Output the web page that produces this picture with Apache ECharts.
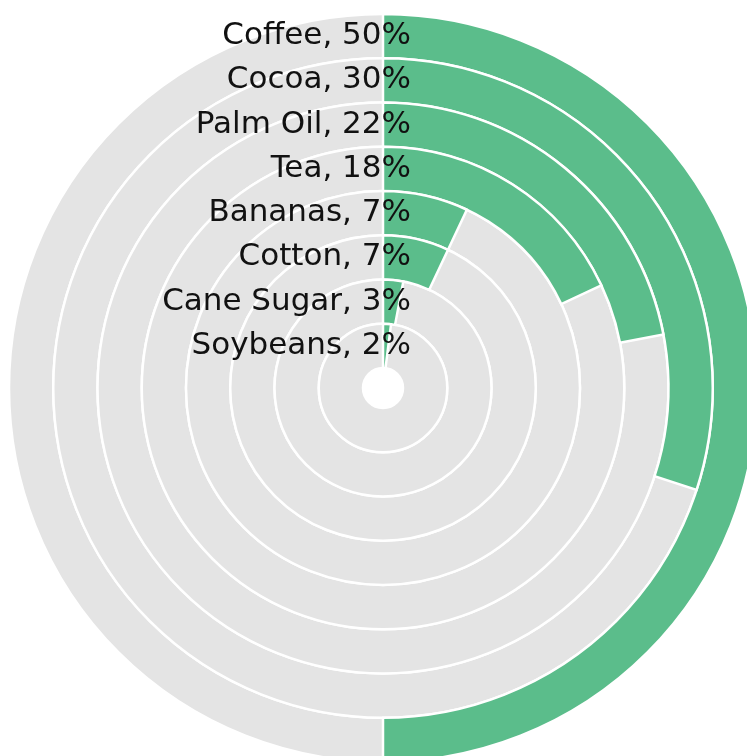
<!DOCTYPE html>
<html>
<head>
<meta charset="utf-8">
<script src="https://cdn.jsdelivr.net/npm/echarts@6/dist/echarts.min.js"></script>
<style>
  html, body { margin: 0; padding: 0; background: #fff; }
  #main { width: 747px; height: 756px; }
</style>
</head>
<body>
<div id="main"></div>
<script>
var commodities = ['Coffee', 'Cocoa', 'Palm Oil', 'Tea', 'Bananas', 'Cotton', 'Cane Sugar', 'Soybeans'];
var shares = [50, 30, 22, 18, 7, 7, 3, 2];

var myChart = echarts.init(document.getElementById('main'));

var option = {
    animation: false,
    polar: {
        center: [383, 388],
        radius: [20, 374]
    },

    angleAxis: {
        type: 'value',
        min: 0,
        max: 100,
        startAngle: 90,
        clockwise: true,
        axisLine: { show: false },
        axisTick: { show: false },
        axisLabel: { show: false },
        splitLine: { show: false }
    },

    radiusAxis: {
        type: 'category',
        data: commodities,
        inverse: true,
        z: 10,
        axisLine: { show: false },
        axisTick: { show: false },
        splitLine: { show: false },
        axisLabel: {
            show: true,
            interval: 0,
            hideOverlap: false,
            margin: -28,
            color: '#111',
            fontSize: 31,
            fontFamily: 'DejaVu Sans',
            formatter: function (name, i) {
                return name + ', ' + shares[i] + '%';
            }
        }
    },

    series: [{
        type: 'bar',
        coordinateSystem: 'polar',
        data: shares,
        barCategoryGap: '0%',
        showBackground: true,
        backgroundStyle: {
            color: '#e4e4e4',
            borderColor: '#fff',
            borderWidth: 2.5
        },
        itemStyle: {
            color: '#5bbd8b',
            borderColor: '#fff',
            borderWidth: 2.5
        }
    }]
};

myChart.setOption(option);
</script>
</body>
</html>
